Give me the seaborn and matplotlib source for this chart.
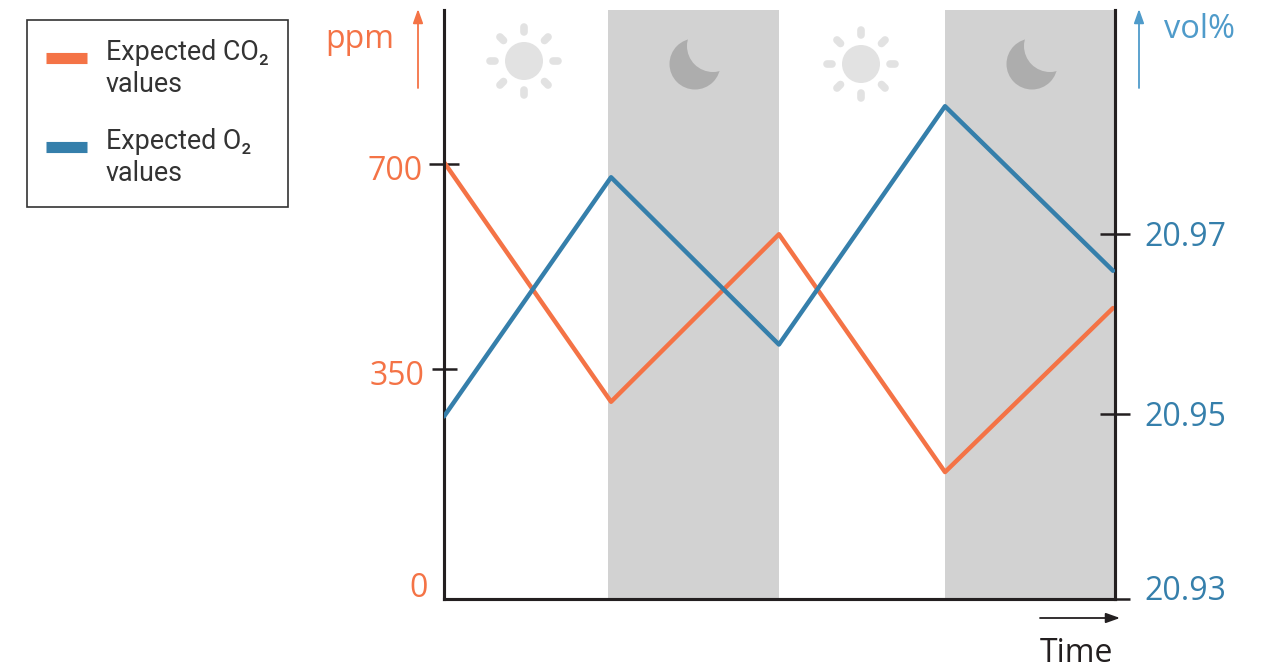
import matplotlib
matplotlib.use("Agg")
import numpy as np
import matplotlib.pyplot as plt
import seaborn as sns
from matplotlib.legend_handler import HandlerLine2D
from matplotlib.lines import Line2D
from matplotlib.patches import Circle
from matplotlib.transforms import ScaledTranslation

# values (time in hours)
time_points = [0, 11.95, 23.96, 35.84, 47.86]
co2_ppm = [703, 294, 580, 174, 454]
o2_vol = [20.9497, 20.9763, 20.9577, 20.9842, 20.9659]
night_start = [11.73, 35.84]
night_end = [23.96, 48]
ppm_ticks = [0, 350, 700]
vol_ticks = [20.9294, 20.95, 20.97]
ppm_labels = ["0", "350", "700"]
vol_labels = ["20.93", "20.95", "20.97"]

ORANGE = "#f47346"
BLUE = "#357fab"
LIGHT_BLUE = "#4f9bca"
DARK = "#231f20"
NIGHT = "#d2d2d2"
W, H = 1268, 669

sns.set_theme(style="white")
plt.rcParams['font.family'] = ['Open Sans', 'DejaVu Sans']

fig = plt.figure(figsize=(W / 100, H / 100), dpi=100)
# axes box in pixels: x 444-1115, y 10-599
ax = fig.add_axes([444 / W, 1 - 599 / H, (1115 - 444) / W, 589 / H])
ax2 = ax.twinx()

for a, b in zip(night_start, night_end):
    ax.axvspan(a, b, color=NIGHT, lw=0, zorder=0)

sns.lineplot(x=time_points, y=co2_ppm, ax=ax, color=ORANGE, lw=3.2, legend=False, zorder=3)
sns.lineplot(x=time_points, y=o2_vol, ax=ax2, color=BLUE, lw=3.2, legend=False, zorder=3)

ax.set_xlim(0, 48)
ax.set_ylim(-42.7, 962.8)
ax2.set_ylim(20.9294, 20.9949)
ax.set_xticks([])
ax2.set_xticks([])
ax.set_xlabel("")
ax.set_ylabel("")
ax2.set_ylabel("")
ax.grid(False)
ax2.grid(False)

ax.set_yticks(ppm_ticks, ppm_labels)
ax2.set_yticks(vol_ticks, vol_labels)
ax.tick_params(axis='y', direction='inout', length=21, width=1.8, color=DARK, left=True,
               labelcolor=ORANGE, labelsize=23, pad=5)
ax2.tick_params(axis='y', direction='inout', length=21, width=1.8, color=DARK, right=True,
                labelcolor=BLUE, labelsize=23, pad=11)

ax2.patch.set_visible(False)
for a in (ax, ax2):
    for side, spine in a.spines.items():
        spine.set_color(DARK)
        spine.set_linewidth(2.2)
        spine.set_visible(side != 'top')

# the 0 tick has no mark, the 0 and 20.93 labels sit off their ticks
ax.yaxis.get_major_ticks()[0].tick1line.set_visible(False)
ax.yaxis.get_major_ticks()[1].tick1line.set_markersize(18)
for lab, dx, dy in zip(ax.get_yticklabels(), [5, 2, 0], [-11, -4, -4]):
    lab.set_transform(lab.get_transform() + ScaledTranslation(dx / 100, dy / 100, fig.dpi_scale_trans))
lab = ax2.get_yticklabels()[0]
lab.set_transform(lab.get_transform() + ScaledTranslation(0, 11 / 100, fig.dpi_scale_trans))

# overlay in pixel coordinates for the icons, arrows and unit labels
ov = fig.add_axes([0, 0, 1, 1], zorder=5)
ov.set_xlim(0, W)
ov.set_ylim(H, 0)
ov.axis('off')


def draw_sun(cx, cy):
    ov.add_patch(Circle((cx, cy), 19, color="#e2e2e2", lw=0))
    for ang in np.arange(0, 360, 45):
        c, s = np.cos(np.radians(ang)), np.sin(np.radians(ang))
        ov.plot([cx + 29 * c, cx + 34 * c], [cy + 29 * s, cy + 34 * s], color="#e2e2e2",
                lw=5.5, solid_capstyle='round')


def draw_moon(cx, cy):
    ov.add_patch(Circle((cx, cy), 25.5, color="#adadad", lw=0))
    ov.add_patch(Circle((cx + 18, cy - 18), 26, color=NIGHT, lw=0))


draw_sun(524, 61)
draw_sun(861, 64)
draw_moon(695, 64)
draw_moon(1032, 64)


def draw_arrow(x0, y0, x1, y1, color):
    ov.annotate("", xy=(x1, y1), xytext=(x0, y0),
                arrowprops=dict(arrowstyle='-|>,head_length=0.7,head_width=0.25', color=color, lw=1.3,
                                shrinkA=0, shrinkB=0))


draw_arrow(418, 88, 418, 9, ORANGE)
draw_arrow(1139, 88, 1139, 9, LIGHT_BLUE)
draw_arrow(1040, 618, 1120, 618, DARK)

ov.text(360, 39, "ppm", color=ORANGE, fontsize=23, ha='center', va='center')
ov.text(1200, 30, "vol%", color=LIGHT_BLUE, fontsize=23.5, ha='center', va='center')
ov.text(1076, 653, "Time", color=DARK, fontsize=23, ha='center', va='center')


class TopLineHandler(HandlerLine2D):
    # keep the swatch level with the first line of a two line label
    def create_artists(self, *args, **kwargs):
        artists = super().create_artists(*args, **kwargs)
        for art in artists:
            art.set_ydata(np.asarray(art.get_ydata()) + 8.5)
        return artists


handles = [Line2D([], [], color=ORANGE, lw=8, solid_capstyle='butt'),
           Line2D([], [], color=BLUE, lw=8, solid_capstyle='butt')]
labels = ["Expected CO₂\nvalues", "Expected O₂\nvalues"]
leg = fig.legend(handles, labels, loc='upper left', bbox_to_anchor=(27 / W, 1 - 20 / H),
                 bbox_transform=fig.transFigure, borderaxespad=0, fancybox=False,
                 edgecolor="#333333", framealpha=1, handlelength=1.5, handletextpad=0.7,
                 labelspacing=1.1, borderpad=0.72,
                 handler_map={Line2D: TopLineHandler()},
                 prop={'family': ['Roboto', 'DejaVu Sans'], 'size': 19.4})
leg.get_frame().set_linewidth(1.2)
for t in leg.get_texts():
    t.set_color("#333333")
    t.set_linespacing(1.24)
leg.set_zorder(10)

fig.savefig("out.png", dpi=100)
